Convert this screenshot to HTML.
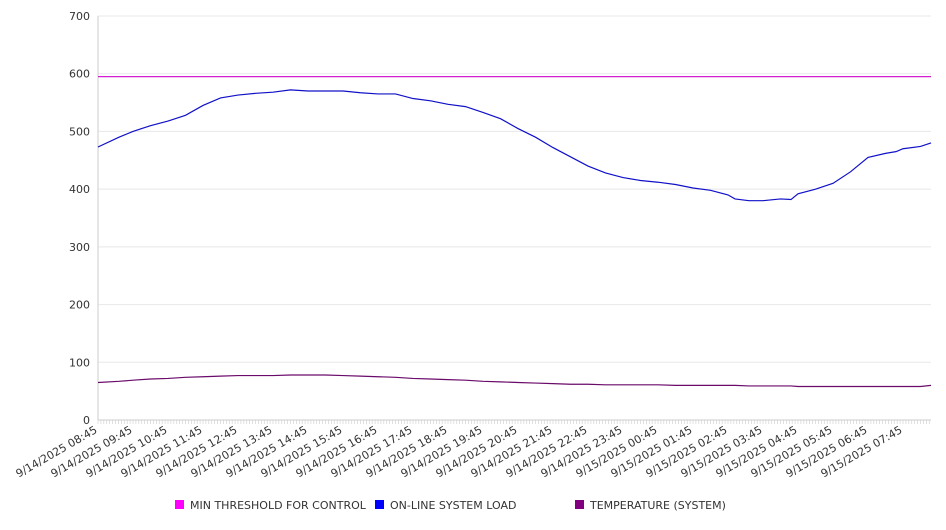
<!DOCTYPE html>
<html><head><meta charset="utf-8"><style>
body{margin:0;background:#fff;font-family:"DejaVu Sans","Liberation Sans",sans-serif;}
svg text{font-family:"DejaVu Sans","Liberation Sans",sans-serif;fill:#333;}
</style></head><body>
<svg id="chart" width="946" height="526" xmlns="http://www.w3.org/2000/svg"></svg>
<script>
const hours = [0,0.6,1,1.5,2,2.5,3,3.5,4,4.5,5,5.5,6,6.5,7,7.5,8,8.5,9,9.5,10,10.5,11,11.5,12,12.5,13,13.5,14,14.5,15,15.5,16,16.5,17,17.5,18,18.2,18.6,19,19.5,19.8,20,20.5,21,21.5,22,22.5,22.8,23,23.5,23.8];
const loadValues = [473,490,500,510,518,528,545,558,563,566,568,572,570,570,570,567,565,565,557,553,547,543,533,522,505,490,472,456,440,428,420,415,412,408,402,398,390,383,380,380,383,382,392,400,410,430,455,462,465,470,474,480];
const tempValues = [65,67,69,71,72,74,75,76,77,77,77,78,78,78,77,76,75,74,72,71,70,69,67,66,65,64,63,62,62,61,61,61,61,60,60,60,60,60,59,59,59,59,58,58,58,58,58,58,58,58,58,60];
const thresholdValue = 595;
const yTicks = [0,100,200,300,400,500,600,700];
const xLabels = ["9/14/2025 08:45","9/14/2025 09:45","9/14/2025 10:45","9/14/2025 11:45","9/14/2025 12:45","9/14/2025 13:45","9/14/2025 14:45","9/14/2025 15:45","9/14/2025 16:45","9/14/2025 17:45","9/14/2025 18:45","9/14/2025 19:45","9/14/2025 20:45","9/14/2025 21:45","9/14/2025 22:45","9/14/2025 23:45","9/15/2025 00:45","9/15/2025 01:45","9/15/2025 02:45","9/15/2025 03:45","9/15/2025 04:45","9/15/2025 05:45","9/15/2025 06:45","9/15/2025 07:45"];

const L=98,R=931,T=16,B=420,HMAX=23.8;
const xs=h=>L+(R-L)*h/HMAX;
const ys=v=>B-(B-T)*v/700;
const svg=document.getElementById('chart');
const NS="http://www.w3.org/2000/svg";
function mk(tag,attrs,parent){const e=document.createElementNS(NS,tag);for(const k in attrs)e.setAttribute(k,attrs[k]);(parent||svg).appendChild(e);return e;}

yTicks.forEach(v=>{
  const g=mk('line',{x1:L,x2:R,y1:ys(v),y2:ys(v),stroke:v===0?'#ccc':'#e8e8e8','stroke-width':1});
  
  
  const t=mk('text',{x:L-8,y:ys(v)+4,'text-anchor':'end','font-size':11});
  t.textContent=v;
  
  
});
const ax=mk('line',{x1:L,x2:L,y1:T,y2:B,stroke:'#ccc'});


for(let m=0;m<=HMAX*60;m+=5){
  const tk=mk('line',{x1:xs(m/60),x2:xs(m/60),y1:B,y2:B+4,stroke:'#ccc','stroke-width':0.6});
  
  
}
xLabels.forEach((s,i)=>{
  const x=xs(i);
  const t=mk('text',{x:x,y:B+12,'text-anchor':'end','font-size':11,transform:`rotate(-30 ${x} ${B+12})`});
  t.textContent=s;
  
  
});
const th=mk('line',{x1:L,x2:R,y1:ys(thresholdValue),y2:ys(thresholdValue),stroke:'#d21fd2','stroke-width':1.2});


function series(vals,color,name){
  const p=mk('polyline',{points:vals.map((v,i)=>xs(hours[i])+','+ys(v)).join(' '),fill:'none',stroke:color,'stroke-width':1.2});
  
  
}
series(loadValues,'#1010c8','online-system-load-line');
series(tempValues,'#6a0a6a','temperature-line');

const legend=[["MIN THRESHOLD FOR CONTROL","#ff00ff",175],["ON-LINE SYSTEM LOAD","#0000ff",375],["TEMPERATURE (SYSTEM)","#800080",575]];
legend.forEach(([lbl,c,x])=>{
  const g=mk('g',{});
  
  
  mk('rect',{x:x,y:500,width:9,height:9,fill:c},g);
  const t=mk('text',{x:x+15,y:509,'font-size':11},g);
  t.textContent=lbl;
});
</script>
</body></html>
